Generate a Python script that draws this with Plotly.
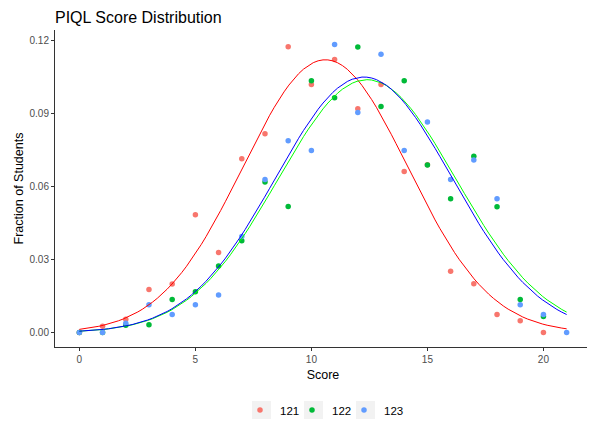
import numpy as np
import plotly.graph_objects as go

scores = list(range(0, 22))
frac_121 = [0.0, 0.0026, 0.0055, 0.0177, 0.0200, 0.0485, 0.0329, 0.0715, 0.0818, 0.1175, 0.1020,
            0.1123, 0.0920, 0.1020, 0.0662, 0.0690, 0.0252, 0.0201, 0.0074, 0.0049, 0.0, None]
frac_122 = [0.0, 0.0, 0.0030, 0.0032, 0.0136, 0.0168, 0.0274, 0.0378, 0.0619, 0.0518, 0.1036,
            0.0966, 0.1174, 0.0930, 0.1036, 0.0689, 0.0550, 0.0725, 0.0517, 0.0136, 0.0066, None]
frac_123 = [0.0, 0.0, 0.0038, 0.0114, 0.0074, 0.0114, 0.0155, 0.0395, 0.0629, 0.0789, 0.0749,
            0.1185, 0.0905, 0.1145, 0.0749, 0.0866, 0.0630, 0.0710, 0.0550, 0.0114, 0.0074, 0.0]

groups = ["121", "122", "123"]
point_colors = ["#F8766D", "#00BA38", "#619CFF"]
line_colors = ["#FF0000", "#00FF00", "#0000FF"]
fit_mean = [10.6, 12.4, 12.26]
fit_sd = [3.556, 3.836, 3.796]

x_ticks = [0, 5, 10, 15, 20]
y_ticks = [0.00, 0.03, 0.06, 0.09, 0.12]

FONT = "Liberation Sans, Arial, sans-serif"

# page body has an 8px margin: figure origin sits at (8, 8) in the window
OFF = 8
W, H = 595 - OFF, 421 - OFF
ML, MR, MT, MB = 55 - OFF, 4, 30 - OFF, 74
PW, PH = W - ML - MR, H - MT - MB

def px_to_paper_x(sx):
    return (sx - OFF - ML) / PW

def px_to_paper_y(sy):
    return (H - MB - (sy - OFF)) / PH

legend_key_px = [261.5, 313.5, 365.5]
legend_y_px = 410
legend_names = ["legend", "legend2", "legend3"]

fig = go.Figure()
series = [frac_121, frac_122, frac_123]
for g, vals, pc, lg in zip(groups, series, point_colors, legend_names):
    fig.add_trace(go.Scatter(x=scores, y=vals, mode="markers", name=g, legend=lg,
                             marker=dict(color=pc, size=5.5, line=dict(width=0)),
                             showlegend=True))

xs = np.linspace(0, 21, 101)
for m, s, lc in zip(fit_mean, fit_sd, line_colors):
    ys = np.exp(-0.5 * ((xs - m) / s) ** 2) / (s * np.sqrt(2 * np.pi))
    fig.add_trace(go.Scatter(x=xs, y=ys, mode="lines", line=dict(color=lc, width=1),
                             showlegend=False, hoverinfo="skip"))

legend_layouts = {}
for lg, kx in zip(legend_names, legend_key_px):
    legend_layouts[lg] = dict(orientation="h", x=px_to_paper_x(kx - 21.5), xanchor="left",
                              y=px_to_paper_y(legend_y_px), yanchor="middle",
                              font=dict(size=11.5, color="#000000"), itemwidth=30,
                              bgcolor="rgba(0,0,0,0)")
    fig.add_shape(type="rect", xref="paper", yref="paper",
                  x0=px_to_paper_x(kx - 9.5), x1=px_to_paper_x(kx + 9.5),
                  y0=px_to_paper_y(legend_y_px + 9), y1=px_to_paper_y(legend_y_px - 9),
                  fillcolor="#F2F2F2", line=dict(width=0), layer="below")

fig.update_layout(
    width=W, height=H,
    margin=dict(l=ML, r=MR, t=MT, b=MB, autoexpand=False),
    paper_bgcolor="white", plot_bgcolor="white",
    font=dict(family=FONT, color="#000000"),
    title=dict(text="PIQL Score Distribution", x=ML / W, xanchor="left",
               y=1 - (17 - OFF) / H, yanchor="middle", font=dict(size=16, color="#000000")),
    xaxis=dict(range=[-1.05, 22.05], tickvals=x_ticks, ticktext=[str(v) for v in x_ticks],
               showgrid=False, zeroline=False, showline=True, linecolor="#333333", linewidth=1,
               ticks="outside", ticklen=3, tickcolor="#333333", automargin=False,
               tickfont=dict(size=10, color="#4D4D4D"),
               title=dict(text="Score", font=dict(size=12.5, color="#000000"), standoff=6)),
    yaxis=dict(range=[-0.00593, 0.12443], tickvals=y_ticks,
               ticktext=["0.00", "0.03", "0.06", "0.09", "0.12"],
               showgrid=False, zeroline=False, showline=True, linecolor="#333333", linewidth=1,
               ticks="outside", ticklen=3, tickcolor="#333333", automargin=False,
               tickfont=dict(size=10, color="#4D4D4D"),
               title=dict(text="Fraction of Students", font=dict(size=12.5, color="#000000"), standoff=3)),
    **legend_layouts,
)

fig.write_html("out.html")
